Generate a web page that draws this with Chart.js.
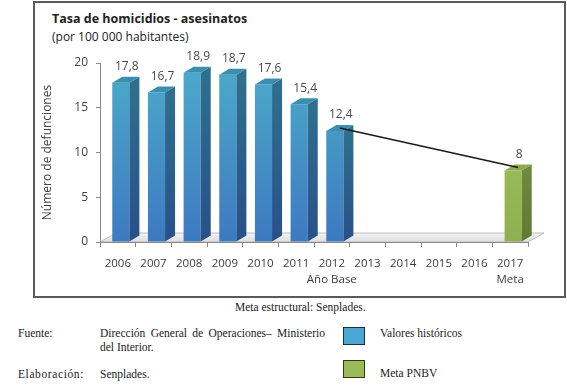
<!DOCTYPE html>
<html>
<head>
<meta charset="utf-8">
<script src="https://cdn.jsdelivr.net/npm/chart.js@4/dist/chart.umd.min.js"></script>
<style>
body { margin: 0; width: 567px; height: 389px; background: #fff; position: relative; overflow: hidden; font-family: "Liberation Serif", serif; color: #222; }
#box { position: absolute; left: 33px; top: 1px; width: 529px; height: 293px; border: 2px solid #5a5a5a; }
#wrap { position: absolute; left: 0; top: 0; width: 567px; height: 300px; }
.t { position: absolute; white-space: nowrap; font-size: 11.5px; line-height: 14px; height: 14px; }
.ttl { position: absolute; left: 52px; font-family: "Open Sans", sans-serif; color: #222; white-space: nowrap; }
.sq { position: absolute; left: 343px; width: 20px; height: 16px; border: 1.5px solid #1d2f3d; }
</style>
</head>
<body>
<div id="box"></div>
<div class="ttl" style="top:10px;font-size:12.5px;font-weight:bold;">Tasa de homicidios - asesinatos</div>
<div class="ttl" style="top:28px;font-size:12px;">(por 100 000 habitantes)</div>
<div id="wrap"><canvas id="chart" width="567" height="300"></canvas></div>

<div class="t" style="left:235px;top:300px;">Meta estructural: Senplades.</div>
<div class="t" style="left:18px;top:326px;">Fuente:</div>
<div class="t" style="left:100px;top:326px;width:225px;text-align:justify;text-align-last:justify;">Dirección General de Operaciones– Ministerio</div>
<div class="t" style="left:100px;top:340px;">del Interior.</div>
<div class="t" style="left:18px;top:367px;letter-spacing:0.6px;">Elaboración:</div>
<div class="t" style="left:100px;top:367px;">Senplades.</div>
<div class="sq" style="top:327px;background:#4aa6d2;"></div>
<div class="sq" style="top:360px;background:#9bbb59;border-color:#2d3a1c;"></div>
<div class="t" style="left:380px;top:326px;">Valores históricos</div>
<div class="t" style="left:380px;top:366px;">Meta PNBV</div>

<script>
// ---------- DATA ----------
const years = [["2006"], ["2007"], ["2008"], ["2009"], ["2010"], ["2011"], ["2012", "Año Base"],
    ["2013"], ["2014"], ["2015"], ["2016"], ["2017", "Meta"]];
const historicos = [17.8, 16.7, 18.9, 18.7, 17.6, 15.4, 12.4, null, null, null, null, null];
const meta = [null, null, null, null, null, null, null, null, null, null, null, 8];
const tendencia = [null, null, null, null, null, null, 12.4, null, null, null, null, 8];
const yTicks = [0, 5, 10, 15, 20];

// ---------- 3D LOOK ----------
const DX = 10, DY = -6, SHIFT = 3;

function frontGradient(ctx, top, bottom) {
    const { chart } = ctx;
    const area = chart.chartArea;
    if (!area) return top;
    const g = chart.ctx.createLinearGradient(0, area.top, 0, area.bottom);
    g.addColorStop(0, top);
    g.addColorStop(1, bottom);
    return g;
}

const faces = [
    { side: "#2f6f8e", sideLow: "#28508a", top: "#3a8fb0" },
    { side: "#6e8a3c", sideLow: "#5f7a32", top: "#8eab4f" }
];

const bars3d = {
    id: "bars3d",
    beforeDraw(chart) {
        // floor
        const ctx = chart.ctx;
        const x = chart.scales.x, y = chart.scales.y;
        const b = y.getPixelForValue(0);
        ctx.save();
        const g = ctx.createLinearGradient(0, b - 9, 0, b);
        g.addColorStop(0, "#f4f4f4");
        g.addColorStop(1, "#dcdcdc");
        ctx.beginPath();
        ctx.moveTo(x.left, b);
        ctx.lineTo(x.left + 16, b - 9);
        ctx.lineTo(x.right + 16, b - 9);
        ctx.lineTo(x.right, b);
        ctx.closePath();
        ctx.fillStyle = g;
        ctx.fill();
        ctx.strokeStyle = "#bdbdbd";
        ctx.lineWidth = 1;
        ctx.stroke();
        ctx.restore();
    },
    beforeDatasetDraw(chart, args) {
        const ctx = chart.ctx;
        ctx.save();
        if (args.index < 2) ctx.translate(SHIFT, 0);
        else ctx.translate(SHIFT + DX / 2, DY / 2);
    },
    afterDatasetDraw(chart, args) {
        const ctx = chart.ctx;
        if (args.index < 2) {
            const f = faces[args.index];
            const data = chart.data.datasets[args.index].data;
            args.meta.data.forEach((el, i) => {
                if (data[i] == null) return;
                const l = el.x - el.width / 2, r = el.x + el.width / 2;
                const t = el.y, b = el.base;
                // side
                const g = ctx.createLinearGradient(0, t, 0, b);
                g.addColorStop(0, f.side);
                g.addColorStop(1, f.sideLow);
                ctx.beginPath();
                ctx.moveTo(r, t);
                ctx.lineTo(r + DX, t + DY);
                ctx.lineTo(r + DX, b + DY);
                ctx.lineTo(r, b);
                ctx.closePath();
                ctx.fillStyle = g;
                ctx.fill();
                // top
                ctx.beginPath();
                ctx.moveTo(l, t);
                ctx.lineTo(l + DX, t + DY);
                ctx.lineTo(r + DX, t + DY);
                ctx.lineTo(r, t);
                ctx.closePath();
                ctx.fillStyle = f.top;
                ctx.fill();
                // value label
                ctx.fillStyle = "#4a4a4a";
                ctx.font = "12px 'Open Sans', sans-serif";
                ctx.textAlign = "center";
                ctx.textBaseline = "middle";
                ctx.fillText(String(data[i]).replace(".", ","), el.x + 6, t - 16);
            });
        }
        ctx.restore();
    }
};

const ctx = document.getElementById("chart").getContext("2d");

new Chart(ctx, {
    data: {
        labels: years,
        datasets: [
            {
                type: "bar",
                label: "Valores históricos",
                data: historicos,
                grouped: false,
                order: 2,
                barPercentage: 0.48,
                categoryPercentage: 1,
                backgroundColor: c => frontGradient(c, "#4cabca", "#3d79c0")
            },
            {
                type: "bar",
                label: "Meta PNBV",
                data: meta,
                grouped: false,
                order: 1,
                barPercentage: 0.48,
                categoryPercentage: 1,
                backgroundColor: c => frontGradient(c, "#a8c86a", "#8fb04e")
            },
            {
                type: "line",
                label: "Tendencia",
                data: tendencia,
                order: 0,
                spanGaps: true,
                borderColor: "#1a1a1a",
                borderWidth: 1.5,
                pointRadius: 0,
                fill: false
            }
        ]
    },
    options: {
        responsive: false,
        animation: false,
        layout: { padding: { left: 40, top: 63, right: 39, bottom: 0 } },
        plugins: {
            legend: { display: false },
            tooltip: { enabled: false }
        },
        scales: {
            x: {
                offset: true,
                grid: { display: true, drawOnChartArea: false, offset: true, tickLength: 5, color: "#8a8a8a" },
                border: { display: true, color: "#8a8a8a" },
                ticks: {
                    color: "#404040",
                    padding: 9,
                    maxRotation: 0,
                    autoSkip: false,
                    font: { family: "'Open Sans', sans-serif", size: 11.5, lineHeight: 1.35 }
                },
                afterFit: s => { s.height = 58; }
            },
            y: {
                min: 0,
                max: 20,
                afterBuildTicks: s => { s.ticks = yTicks.map(v => ({ value: v })); },
                grid: { display: true, drawOnChartArea: false, tickLength: 4, color: "#8a8a8a" },
                border: { display: true, color: "#8a8a8a" },
                ticks: {
                    color: "#404040",
                    padding: 8,
                    font: { family: "'Open Sans', sans-serif", size: 12 }
                },
                title: {
                    display: true,
                    text: "Número de defunciones",
                    color: "#404040",
                    padding: 0,
                    font: { family: "'Open Sans', sans-serif", size: 12 }
                },
                afterFit: s => { s.width = 60; }
            }
        }
    },
    plugins: [bars3d]
});
</script>
</body>
</html>
